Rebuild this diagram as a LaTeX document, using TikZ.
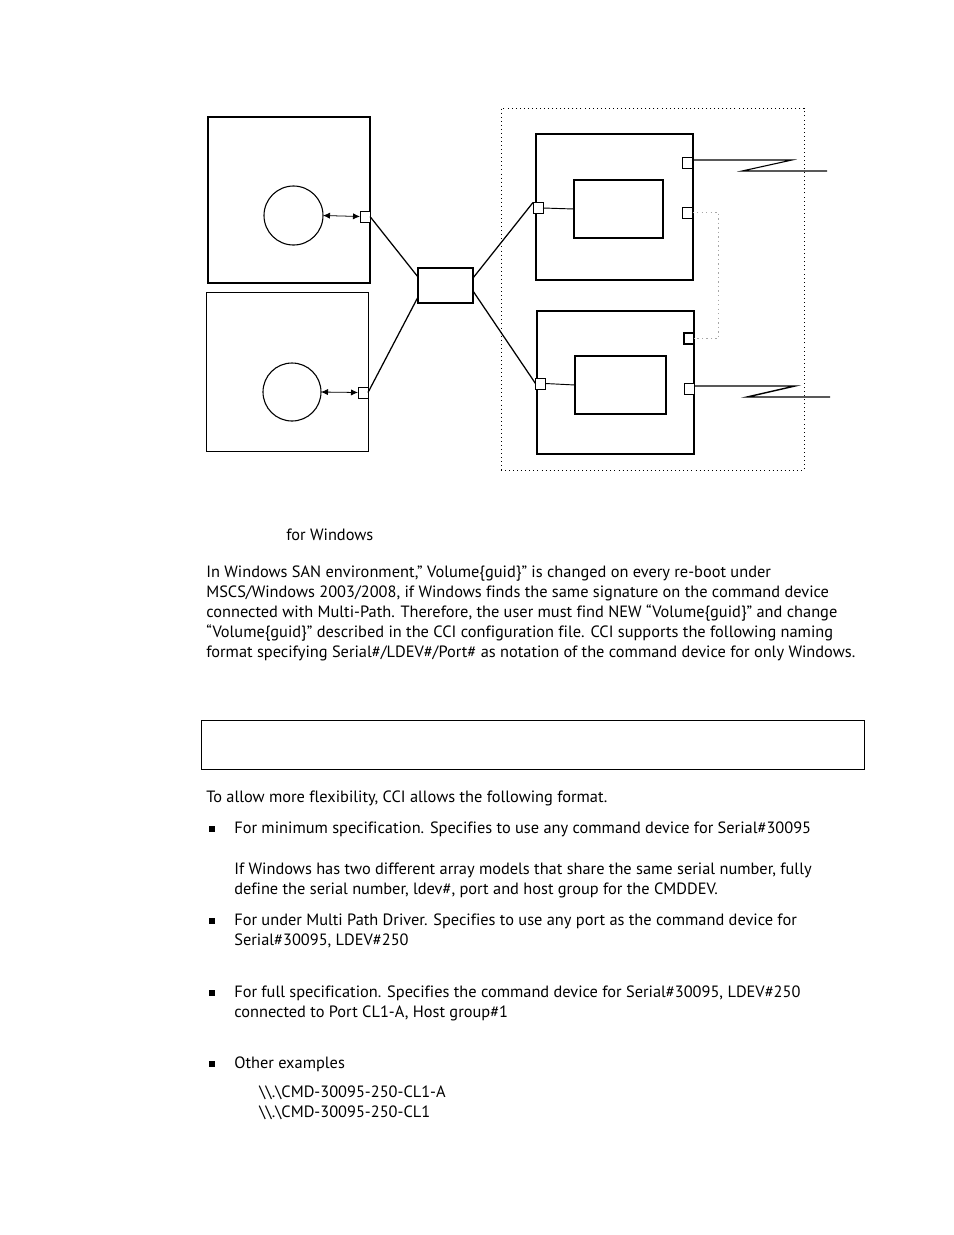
\documentclass[tikz,border=0pt]{standalone}
\usepackage{fontspec}
\setmainfont[Ligatures=NoCommon]{PT Sans}
\usetikzlibrary{arrows.meta}
\newcommand{\pxu}{0.6415pt}

\begin{document}
\begin{tikzpicture}[x=\pxu, y=-\pxu,
  box/.style={draw, inner sep=0pt, outer sep=0pt},
  port/.style={draw, fill=white, inner sep=0pt, outer sep=0pt, minimum width=10*\pxu, minimum height=11*\pxu},
  link/.style={line width=0.8pt},
  txt/.style={anchor=base west, inner sep=0pt, font=\fontsize{10.5}{12}\selectfont},
  bul/.style={fill, inner sep=0pt, minimum size=5.5*\pxu}]
\useasboundingbox (0,0) rectangle (954,1235);
% hosts
\node[box, line width=1.3pt, minimum width=162*\pxu, minimum height=166*\pxu] (host1) at (289,200) {};
\node[box, line width=0.6pt, minimum width=162*\pxu, minimum height=159*\pxu] (host2) at (287,371.5) {};
\node[box, circle, line width=0.7pt, minimum size=59*\pxu] (app1) at (293.5,215.5) {};
\node[box, circle, line width=0.7pt, minimum size=58*\pxu] (app2) at (292,392) {};
\node[port] (hp1) at (365,216.5) {};
\node[port] (hp2) at (363,392.5) {};
\draw[{Latex[length=4.5pt,width=4pt]}-{Latex[length=4.5pt,width=4pt]}, line width=0.5pt] (app1.east) -- (hp1.west);
\draw[{Latex[length=4.5pt,width=4pt]}-{Latex[length=4.5pt,width=4pt]}, line width=0.5pt] (app2.east) -- (hp2.west);
% switch
\node[box, line width=1.3pt, minimum width=55*\pxu, minimum height=35*\pxu] (sw) at (445.5,285.5) {};
% storage
\node[box, dotted, line width=0.6pt, minimum width=303*\pxu, minimum height=362*\pxu] (stor) at (652.5,289) {};
\node[box, line width=1.3pt, minimum width=157*\pxu, minimum height=146*\pxu] (arr1) at (614.5,207) {};
\node[box, line width=0.7pt, minimum width=89*\pxu, minimum height=58*\pxu] (ldev1) at (618.5,209) {};
\node[box, line width=1.3pt, minimum width=157*\pxu, minimum height=143*\pxu] (arr2) at (615.5,382.5) {};
\node[box, line width=0.7pt, minimum width=91*\pxu, minimum height=58*\pxu] (ldev2) at (620.5,385) {};
\node[port] (ap1) at (538,208) {};
\node[port] (ap1a) at (687,162.5) {};
\node[port] (ap1b) at (687.5,212.5) {};
\node[port] (ap2) at (540.5,383.5) {};
\node[port, line width=1pt] (ap2a) at (689,338.5) {};
\node[port] (ap2b) at (689.5,388.5) {};
\coordinate (z1) at (792,160);
\coordinate (z1b) at (742,171);
\coordinate (z1c) at (827,171);
\coordinate (z2) at (795,386);
\coordinate (z2b) at (747,397);
\coordinate (z2c) at (830,397);
\draw[link] (hp1.east) -- ([yshift=8.5*\pxu]sw.west);
\draw[link] (hp2.east) -- ([yshift=-11.5*\pxu]sw.west);
\draw[link] ([yshift=7.5*\pxu]sw.east) -- (ap1.north west);
\draw[link] ([yshift=-5.5*\pxu]sw.east) -- (ap2.west);
\draw[line width=0.6pt] (ap1.east) -- (ldev1.west);
\draw[line width=0.6pt] (ap2.east) -- (ldev2.west);
\draw[line width=0.7pt] ([yshift=2.5*\pxu]ap1a.east) -- (z1) -- (z1b) -- (z1c);
\draw[line width=0.9pt] ([yshift=2.5*\pxu]ap2b.east) -- (z2) -- (z2b) -- (z2c);
\draw[gray!70, dotted, line width=0.9pt] (ap1b.east) -- ++(26,0) |- (ap2a.east);
% text
\node[txt] (cap) at (286,540) {for Windows};
\node[txt] (p1) at (206,577) {In Windows SAN environment,” Volume\{guid\}” is changed on every re-boot under};
\node[txt] (p2) at (206,597) {MSCS/Windows 2003/2008, if Windows finds the same signature on the command device};
\node[txt] (p3) at (206,617) {connected with Multi-Path. Therefore, the user must find NEW “Volume\{guid\}” and change};
\node[txt] (p4) at (206,637) {“Volume\{guid\}” described in the CCI configuration file. CCI supports the following naming};
\node[txt] (p5) at (206,657) {format specifying Serial\#/LDEV\#/Port\# as notation of the command device for only Windows.};
\node[box, line width=0.6pt, minimum width=663*\pxu, minimum height=49*\pxu] (fmt) at (532.5,744.5) {};
\node[txt] (q1) at (206,802) {To allow more flexibility, CCI allows the following format.};
\node[bul] (b1) at (212,829) {};
\node[txt] (l1) at (234,833) {For minimum specification. Specifies to use any command device for Serial\#30095};
\node[txt] (l2) at (234,874) {If Windows has two different array models that share the same serial number, fully};
\node[txt] (l3) at (234,894) {define the serial number, ldev\#, port and host group for the CMDDEV.};
\node[bul] (b2) at (212,921) {};
\node[txt] (l4) at (234,925) {For under Multi Path Driver. Specifies to use any port as the command device for};
\node[txt] (l5) at (234,945) {Serial\#30095, LDEV\#250};
\node[bul] (b3) at (212,993) {};
\node[txt] (l6) at (234,997) {For full specification. Specifies the command device for Serial\#30095, LDEV\#250};
\node[txt] (l7) at (234,1017) {connected to Port CL1-A, Host group\#1};
\node[bul] (b4) at (212,1064) {};
\node[txt] (l8) at (234,1068) {Other examples};
\node[txt] (e1) at (259,1097) {\textbackslash\textbackslash.\textbackslash CMD-30095-250-CL1-A};
\node[txt] (e2) at (259,1117) {\textbackslash\textbackslash.\textbackslash CMD-30095-250-CL1};
\end{tikzpicture}
\end{document}
